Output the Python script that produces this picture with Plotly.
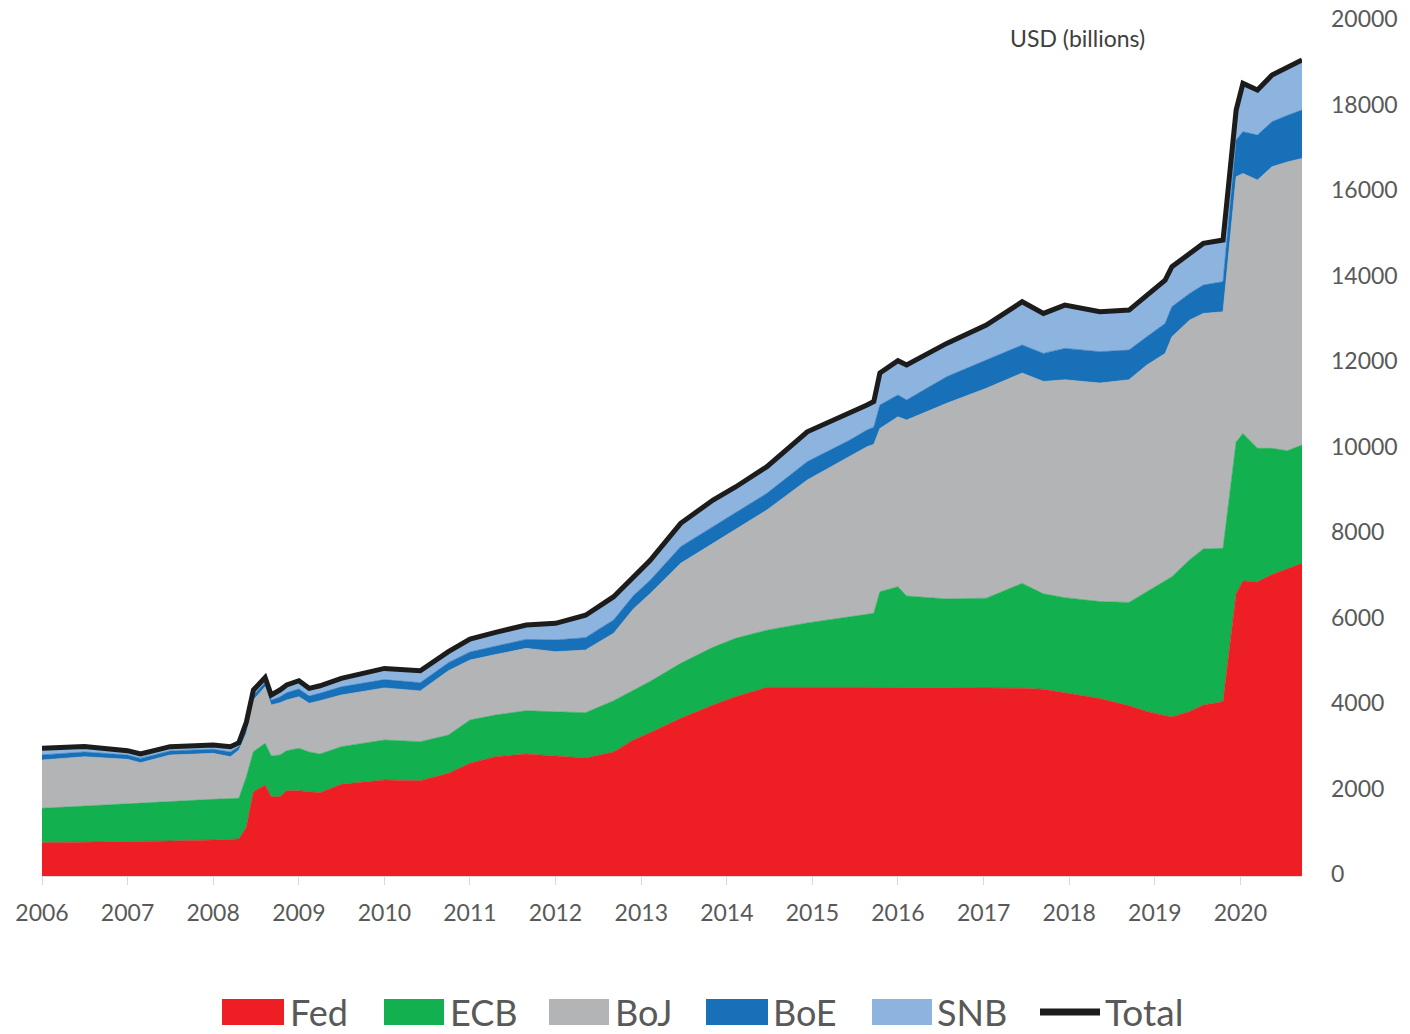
import plotly.graph_objects as go

# ---------------- data (USD billions) ----------------
dates = [
    "2006-01-01", "2006-07-01", "2007-01-01", "2007-02-25", "2007-07-01", "2008-01-01",
    "2008-03-15", "2008-04-20", "2008-05-22", "2008-06-21", "2008-08-10", "2008-09-05",
    "2008-10-12", "2008-11-10", "2009-01-01", "2009-02-14", "2009-04-01", "2009-07-01",
    "2010-01-01", "2010-06-03", "2010-10-01", "2011-01-01", "2011-04-20", "2011-08-29",
    "2012-01-01", "2012-05-08", "2012-09-05", "2012-11-28", "2013-02-07", "2013-06-18",
    "2013-11-03", "2014-02-07", "2014-06-21", "2014-12-10", "2015-06-10", "2015-08-22",
    "2015-09-20", "2015-10-16", "2016-01-01", "2016-02-07", "2016-07-27", "2017-01-12",
    "2017-06-14", "2017-09-13", "2017-12-13", "2018-05-12", "2018-09-13", "2018-11-28",
    "2019-02-14", "2019-03-15", "2019-05-30", "2019-07-27", "2019-10-19", "2019-12-14",
    "2020-01-12", "2020-03-14", "2020-05-15", "2020-07-19", "2020-09-20",
]

fed = [
    780, 790, 802, 805, 820, 842,
    855, 865, 1146, 1970, 2128, 1855,
    1855, 1995, 1995, 1970, 1948, 2145,
    2245, 2230, 2402, 2636, 2791, 2853,
    2800, 2760, 2900, 3181, 3350, 3688,
    4000, 4194, 4413, 4420, 4413, 4413,
    4410, 4410, 4400, 4400, 4400, 4400,
    4390, 4370, 4288, 4150, 3980, 3850,
    3750, 3720, 3850, 4000, 4077, 6600,
    6900, 6884, 7050, 7180, 7313,
]

ecb = [
    803, 850, 898, 905, 920, 951,
    950, 952, 1177, 938, 975, 952,
    975, 936, 991, 930, 905, 880,
    936, 912, 896, 1013, 975, 1013,
    1040, 1060, 1200, 1170, 1200, 1286,
    1350, 1365, 1337, 1500, 1657, 1707,
    1734, 2240, 2367, 2149, 2080, 2100,
    2455, 2230, 2222, 2270, 2420, 2800,
    3150, 3280, 3550, 3650, 3587, 3550,
    3450, 3119, 2953, 2768, 2768,
]

boj = [
    1130, 1150, 1029, 941, 1090, 1076,
    986, 1130, 1014, 1209, 1325, 1193,
    1220, 1186, 1208, 1139, 1247, 1209,
    1219, 1188, 1502, 1401, 1414, 1459,
    1407, 1466, 1576, 1893, 2050, 2339,
    2431, 2541, 2811, 3342, 3738, 3922,
    3956, 3820, 3975, 4116, 4576, 4907,
    4920, 4970, 5098, 5111, 5208, 5302,
    5325, 5614, 5604, 5510, 5535, 6207,
    6085, 6276, 6588, 6752, 6705,
]

boe = [
    120, 110, 100, 100, 95, 95,
    110, 80, 120, 110, 100, 110,
    140, 170, 180, 170, 175, 190,
    194, 190, 190, 190, 194, 210,
    274, 290, 312, 312, 312, 390,
    391, 390, 390, 429, 390, 390,
    400, 547, 509, 469, 623, 662,
    655, 655, 734, 733, 695, 662,
    701, 702, 624, 663, 702, 858,
    975, 1053, 1053, 1090, 1131,
]

snb = [
    153, 130, 102, 102, 100, 100,
    124, 92, 143, 124, 117, 124,
    160, 181, 194, 180, 175, 198,
    262, 282, 260, 300, 326, 336,
    389, 524, 545, 428, 468, 547,
    623, 610, 623, 700, 622, 585,
    600, 748, 802, 818, 780, 818,
    1013, 935, 1013, 935, 935, 975,
    1014, 936, 936, 975, 975, 702,
    1131, 1053, 1092, 1110, 1170,
]

series_names = ["Fed", "ECB", "BoJ", "BoE", "SNB"]
series_values = [fed, ecb, boj, boe, snb]
total_name = "Total"
total = [sum(v) for v in zip(*series_values)]

year_ticks = [str(y) for y in range(2006, 2021)]
y_ticks = list(range(0, 20001, 2000))
axis_title = "USD (billions)"

# ---------------- styles ----------------
colors = ["#ED1F24", "#12B04E", "#B3B4B6", "#1770B8", "#8DB3DF"]
total_color = "#1C1C1C"
text_color = "#595959"
FONT = "Lato, 'Open Sans', sans-serif"

W, H = 1410, 1034
L, R, T, B = 42, 108, 21, 158
PW, PH = W - L - R, H - T - B


def px_x(px):
    return (px - L) / PW


def px_y(py):
    return (H - B - py) / PH


fig = go.Figure()
for name, vals, col in zip(series_names, series_values, colors):
    fig.add_trace(go.Scatter(
        x=dates, y=vals, name=name, mode="lines",
        stackgroup="cb", line=dict(width=0.6, color=col),
        fillcolor=col, hoverinfo="x+y+name",
    ))

fig.add_trace(go.Scatter(
    x=dates, y=total, name=total_name, mode="lines",
    line=dict(color=total_color, width=5), hoverinfo="x+y+name",
))

# ---------------- custom legend ----------------
legend_rects = [(222, 284), (384, 444), (549, 609), (706, 768), (872, 932)]
legend_text_x = [288, 448, 613, 771, 935]
ly0, ly1, lyc = 999, 1025, 1012
shapes = []
annotations = []
for (x0, x1), tx, name, col in zip(legend_rects, legend_text_x, series_names, colors):
    shapes.append(dict(type="rect", xref="paper", yref="paper",
                       x0=px_x(x0), x1=px_x(x1), y0=px_y(ly1), y1=px_y(ly0),
                       fillcolor=col, line=dict(width=0)))
    annotations.append(dict(xref="paper", yref="paper", x=px_x(tx), y=px_y(lyc),
                            text=name, showarrow=False, xanchor="left", yanchor="middle",
                            font=dict(family=FONT, size=36, color=text_color)))
shapes.append(dict(type="line", xref="paper", yref="paper",
                   x0=px_x(1040), x1=px_x(1100), y0=px_y(lyc), y1=px_y(lyc),
                   line=dict(color=total_color, width=7)))
annotations.append(dict(xref="paper", yref="paper", x=px_x(1103), y=px_y(lyc),
                        text=total_name, showarrow=False, xanchor="left", yanchor="middle",
                        font=dict(family=FONT, size=37, color=text_color)))

annotations.append(dict(xref="paper", yref="paper", x=px_x(1077), y=px_y(38),
                        text=axis_title, showarrow=False, xanchor="center", yanchor="middle",
                        font=dict(family=FONT, size=23, color="#404040")))

fig.update_layout(
    width=W, height=H,
    margin=dict(l=L, r=R, t=T, b=B, pad=0, autoexpand=False),
    paper_bgcolor="white", plot_bgcolor="white",
    showlegend=False,
    shapes=shapes, annotations=annotations,
    font=dict(family=FONT, color=text_color),
)

fig.update_xaxes(
    type="date",
    range=["2006-01-01", "2020-09-20"],
    tickvals=[f"{y}-01-01" for y in year_ticks],
    ticktext=year_ticks,
    ticks="outside", ticklen=8, tickcolor="#D9D9D9", tickwidth=1,
    showline=True, linecolor="#D9D9D9", linewidth=1,
    showgrid=False, zeroline=False, automargin=False,
    tickfont=dict(family=FONT, size=23, color=text_color),
    ticklabelstandoff=8,
)

fig.update_yaxes(
    range=[0, 20000], side="right",
    tickvals=y_ticks, ticktext=[str(v) for v in y_ticks],
    showgrid=False, zeroline=False, showline=False, ticks="", automargin=False,
    tickfont=dict(family=FONT, size=23, color=text_color),
    ticklabelstandoff=28, ticklabelshift=-2,
)

fig.write_html(
    "out.html",
    config={"displayModeBar": False},
    post_script="document.body.style.margin='0';document.body.style.padding='0';",
)
